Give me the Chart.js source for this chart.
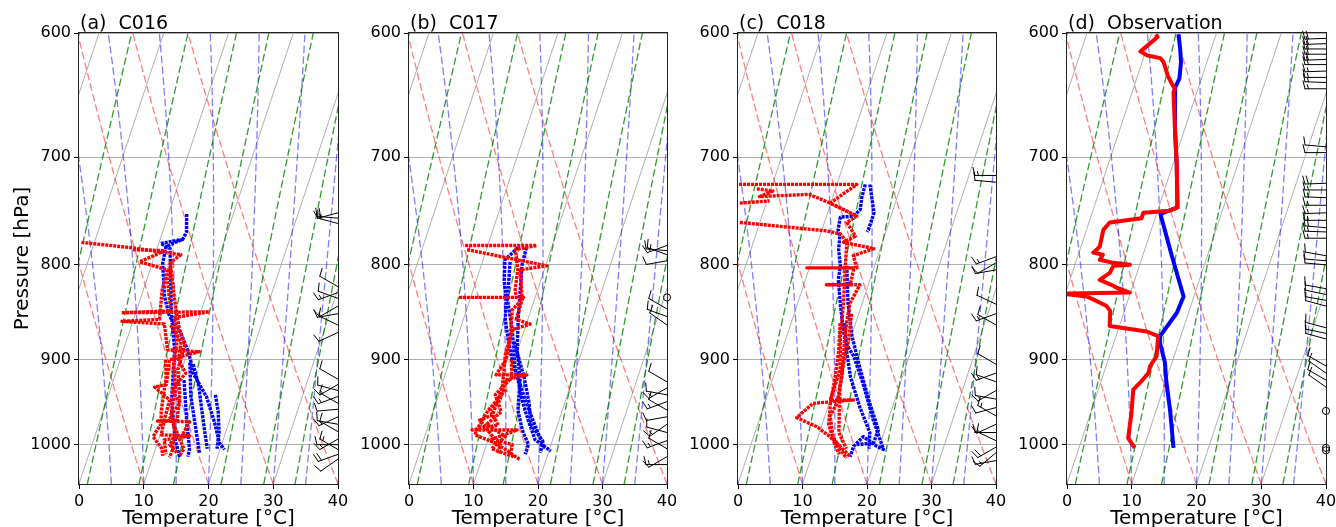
<!DOCTYPE html>
<html>
<head>
<meta charset="utf-8">
<script src="https://cdn.jsdelivr.net/npm/chart.js@4.4.0/dist/chart.umd.min.js"></script>
<style>
  body { margin: 0; background: #fff; width: 1336px; height: 527px; overflow: hidden; position: relative; }
  canvas { position: absolute; top: 0; }
</style>
</head>
<body>
<canvas id="c0"></canvas>
<canvas id="c1"></canvas>
<canvas id="c2"></canvas>
<canvas id="c3"></canvas>
<script>
// axes
const P_TOP = 600, P_BOT = 1050;
const T_MIN = 0, T_MAX = 40;
const Y_TICKS = [600, 700, 800, 900, 1000];
const X_TICKS = [0, 10, 20, 30, 40];

// background lines (metpy defaults)
const ISOTHERMS = [-20, -10, 0, 10, 20, 30, 40];
const DRY_START = [0, 10, 20, 30, 40];                 // degC at 1050 hPa
const MOIST_START = [0, 5, 10, 15, 20, 25, 30, 35, 40]; // degC at 1050 hPa
const MIX_RATIOS = [0.0004, 0.001, 0.002, 0.004, 0.007, 0.01, 0.016, 0.024, 0.032];

// (a) C016  -- [pressure hPa, temperature degC]
const aTemp1 = [[751,2.8],[768,3.7],[775,3.5],[782,1.3],[798,1.6],[832,3.6],[853,5.4],[867,7.6],[889,9.9],[903,11.1],[914,11.8],[942,15.2],[973,17.8],[998,19.6],[1006,20.7]];
const aTemp2 = [[903,10.9],[942,12.8],[982,15.3],[1010,17.0]];
const aTemp3 = [[923,10.9],[965,13.1],[1006,15.3],[1015,15.4]];
const aTemp4 = [[775,3.6],[779,0.3],[784,2.0],[849,5.5],[889,7.9],[946,10.0],[994,12.6],[1016,14.2]];
const aTemp5 = [[905,11.5],[930,13.5],[955,15.0],[980,16.5],[1005,18.0]];
const aTemp6 = [[940,16.5],[960,17.8],[985,19.0],[1005,19.5]];
const aDew1 = [[778,-12.0],[783,-4.3],[790,4.0],[797,2.9],[815,3.2],[835,4.5],[847,5.4],[849,-2.2],[848,11.3],[854,6.2],[878,7.8],[905,8.5],[934,10.1],[958,10.5],[982,12.0],[1006,12.7],[1016,12.6]];
const aDew2 = [[785,-3.7],[786,1.3],[797,-2.0],[805,2.7],[825,2.9],[856,4.0],[858,-1.7],[861,5.0],[889,6.8],[891,11.8],[900,7.6],[928,8.4],[931,6.7],[946,9.7],[970,9.9],[988,10.2],[989,14.6],[994,10.9],[1012,11.9]];
const aDew3 = [[797,2.7],[835,5.3],[867,7.6],[883,9.2],[911,9.4],[940,11.0],[970,11.9],[971,8.9],[972,13.9],[994,13.3],[1005,14.4],[1014,14.1]];
const aDew4 = [[862,6.0],[880,8.5],[900,9.0],[915,10.8],[935,9.5],[950,11.5],[965,10.5],[985,12.5],[1000,12.0],[1010,13.5]];
const aDew5 = [[900,7.0],[920,8.0],[945,8.6],[960,9.0],[975,9.6],[990,9.0],[1005,11.0],[1014,11.5]];
const aWindP   = [750,755,760,822,828,834,842,850,862,870,922,928,935,942,950,957,966,975,984,993,1000,1006,1012,1018];
const aWindDir = [255,275,285,300,250,290,240,260,295,245,300,240,285,250,300,265,245,280,300,240,270,300,250,235];
const aWindSpd = [15,20,15,10,15,10,10,15,10,10,10,15,10,15,10,10,15,10,10,15,10,15,20,10];

// (b) C017
const bTemp1 = [[783,4.8],[795,3.4],[815,4.3],[835,5.6],[856,6.5],[878,8.0],[900,9.6],[923,11.6],[946,13.2],[970,15.2],[994,17.3],[1008,20.3]];
const bTemp2 = [[783,6.1],[800,6.3],[825,7.3],[856,8.5],[889,9.9],[923,11.9],[958,13.1],[982,14.8],[1000,16.5],[1012,16.5]];
const bTemp3 = [[797,4.3],[835,5.8],[867,8.1],[911,10.6],[946,13.7],[976,16.5],[1000,18.7],[1010,18.7]];
const bTemp4 = [[880,9.0],[920,12.4],[950,14.5],[975,15.8],[995,18.5],[1005,19.0]];
const bDew1 = [[781,-3.5],[781,7.6],[785,4.5],[805,5.9],[825,6.5],[833,7.1],[833,-1.9],[833,8.2],[846,7.1],[878,8.3],[900,8.7],[917,7.9],[917,12.7],[923,9.6],[946,9.8],[958,8.8],[976,10.8],[982,7.0],[982,14.0],[994,10.3],[1006,13.2],[1019,16.0]];
const bDew2 = [[785,-3.0],[793,3.6],[801,10.2],[805,6.3],[835,8.1],[856,8.2],[861,10.6],[867,8.1],[894,8.3],[934,9.6],[964,9.4],[970,7.7],[994,11.1],[1000,14.0],[1012,14.2]];
const bDew3 = [[934,10.2],[958,8.5],[979,7.8],[988,7.7],[1000,12.1],[1012,12.3]];
const bDew4 = [[900,9.5],[920,10.5],[940,8.8],[960,10.6],[975,9.0],[990,12.5],[1005,11.0],[1015,14.8]];
const bWindP   = [781,786,790,796,833,845,853,862,925,932,940,948,958,966,975,985,995,1005,1015,1025];
const bWindDir = [250,275,290,260,0,300,290,305,300,240,280,250,300,260,235,285,250,300,240,270];
const bWindSpd = [15,10,15,10,0,10,10,10,10,15,10,15,10,10,15,10,15,10,10,15];

// (c) C018
const cTemp1 = [[724,4.4],[735,4.5],[747,4.9],[753,4.2],[754,2.2],[766,2.5],[772,3.1],[785,3.6],[801,4.7],[815,5.1],[839,6.6],[856,7.7],[881,9.4],[896,11.4],[930,14.5],[970,17.7],[1006,20.8],[1002,19.6],[990,17.0],[1002,16.0],[1015,16.0]];
const cTemp2 = [[724,5.1],[750,7.2],[766,7.2],[768,7.1]];
const cTemp3 = [[801,5.7],[839,7.8],[874,10.1],[911,13.1],[950,16.3],[982,19.0],[998,18.9],[1000,16.4]];
const cTemp4 = [[860,8.3],[890,10.0],[920,12.0],[955,15.0],[985,17.8],[1005,18.5]];
const cDew1 = [[724,-15.8],[724,3.1],[741,-0.1],[753,4.7],[759,3.5],[772,5.5],[778,4.0],[784,9.0],[791,6.2],[803,7.3],[803,-0.4],[803,6.9],[820,7.2],[820,3.5],[820,8.7],[839,8.1],[856,8.5],[874,9.0],[896,9.8],[919,10.6],[950,11.2],[965,10.8],[990,12.3],[1006,14.1],[1017,15.5]];
const cDew2 = [[728,-12.2],[730,-9.6],[735,-11.4],[733,-3.8],[741,-0.1],[753,4.7]];
const cDew3 = [[759,-13.1],[767,0.8],[770,3.1],[778,4.5],[804,5.6],[839,7.1],[874,8.3],[911,10.0],[946,10.0],[946,13.6],[950,7.5],[967,5.7],[978,9.3],[990,11.8],[1002,13.9],[1015,16.0]];
const cDew4 = [[741,-14.1],[739,-9.6]];
const cDew5 = [[850,8.9],[880,9.8],[905,10.2],[930,10.8],[960,12.0],[985,13.0],[1005,15.0]];
const cDew6 = [[860,7.6],[890,8.8],[920,9.6],[950,10.2],[975,11.0],[1000,13.0],[1012,14.2]];
const cWindP   = [716,722,792,798,805,840,850,862,905,915,925,935,945,955,965,975,985,995,1003,1010,1020];
const cWindDir = [270,275,250,240,260,295,250,300,300,250,290,240,280,255,300,245,270,295,240,230,260];
const cWindSpd = [15,10,15,10,10,10,15,10,10,15,10,15,10,10,15,10,15,10,20,15,10];

// (d) Observation
const dTemp = [[601,-5.8],[612,-4.8],[622,-4.0],[635,-3.4],[642,-3.6],[676,-1.5],[705,0.5],[745,2.9],[751,0.6],[791,4.5],[832,8.4],[849,8.2],[874,6.8],[881,7.1],[903,8.9],[923,10.0],[961,12.3],[1004,14.6]];
const dDew = [[601,-9.3],[603,-8.9],[611,-10.3],[614,-10.8],[617,-9.5],[619,-7.4],[622,-6.7],[633,-5.3],[639,-4.3],[643,-3.6],[646,-3.6],[676,-1.5],[705,0.5],[745,2.9],[748,1.9],[750,-2.1],[755,-2.1],[759,-6.8],[766,-7.4],[782,-7.1],[785,-7.4],[788,-7.8],[790,-6.2],[795,-6.4],[798,-4.2],[800,-1.5],[801,-4.0],[808,-4.2],[815,-5.4],[821,-3.0],[823,-2.4],[828,-0.1],[829,-10.5],[832,-6.6],[835,-5.4],[842,-3.0],[847,-2.2],[863,-1.5],[869,4.5],[874,6.5],[896,7.3],[907,6.8],[915,6.9],[926,6.1],[934,5.4],[961,6.3],[992,7.1],[1004,8.6]];
const dWindP   = [604,608,612,616,620,624,629,634,638,643,691,696,723,729,736,743,750,757,764,768,774,791,796,800,824,830,836,842,865,871,877,907,915,923,931,959,1004,1007];
const dWindDir = [268,268,270,270,268,270,268,270,272,270,275,270,268,270,272,270,268,270,275,272,270,280,275,275,280,282,280,285,285,282,285,300,305,300,305,0,0,0];
const dWindSpd = [20,20,20,20,20,20,15,15,15,15,10,10,20,15,15,15,15,15,20,15,15,10,10,10,10,10,10,10,10,10,10,10,10,10,10,0,0,0];

const panels = [
  { id: 'c0', left: 79,   w: 259, title: '(a)  C016', temps: [aTemp1, aTemp2, aTemp3, aTemp4, aTemp5, aTemp6], dews: [aDew1, aDew2, aDew3, aDew4, aDew5], wp: aWindP, wd: aWindDir, ws: aWindSpd, obs: false, ylabel: true },
  { id: 'c1', left: 409,  w: 258, title: '(b)  C017', temps: [bTemp1, bTemp2, bTemp3, bTemp4], dews: [bDew1, bDew2, bDew3, bDew4], wp: bWindP, wd: bWindDir, ws: bWindSpd, obs: false },
  { id: 'c2', left: 738,  w: 258, title: '(c)  C018', temps: [cTemp1, cTemp2, cTemp3, cTemp4], dews: [cDew1, cDew2, cDew3, cDew4, cDew5, cDew6], wp: cWindP, wd: cWindDir, ws: cWindSpd, obs: false },
  { id: 'c3', left: 1067, w: 259, title: '(d)  Observation', temps: [dTemp], dews: [dDew], wp: dWindP, wd: dWindDir, ws: dWindSpd, obs: true }
];

// thermodynamics
const RD = 287.04749, CP = 1004.6662, LV = 2.50084e6, EPS = 0.6219569;
const SKEW = (T_MAX - T_MIN) * Math.tan(30 * Math.PI / 180);
const skewX = (t, p) => t + SKEW * Math.log(P_BOT / p) / Math.log(P_BOT / P_TOP);
const satVap = tk => 6.112 * Math.exp(17.67 * (tk - 273.15) / (tk - 29.65));
function moistRate(p, tk) {
  const e = satVap(tk), rs = EPS * e / (p - e);
  return (RD * tk + LV * rs) / (CP + LV * LV * rs * EPS / (RD * tk * tk)) / p;
}
const PRES = [];
for (let p = P_BOT; p >= P_TOP - 0.01; p -= 10) PRES.push(p);

function dryLine(t0) {
  return PRES.map(p => ({ x: skewX((t0 + 273.15) * Math.pow(p / P_BOT, RD / CP) - 273.15, p), y: p }));
}
function moistLine(t0) {
  let t = t0 + 273.15;
  const out = [{ x: skewX(t0, P_BOT), y: P_BOT }];
  for (let i = 1; i < PRES.length; i++) {
    const p = PRES[i - 1], h = PRES[i] - p;
    const k1 = moistRate(p, t);
    const k2 = moistRate(p + h / 2, t + h * k1 / 2);
    const k3 = moistRate(p + h / 2, t + h * k2 / 2);
    const k4 = moistRate(p + h, t + h * k3);
    t += h * (k1 + 2 * k2 + 2 * k3 + k4) / 6;
    out.push({ x: skewX(t - 273.15, PRES[i]), y: PRES[i] });
  }
  return out;
}
function mixLine(w) {
  return PRES.map(p => {
    const v = Math.log(p * w / (EPS + w) / 6.112);
    return { x: skewX(243.5 * v / (17.67 - v), p), y: p };
  });
}
const toXY = pairs => pairs.map(([p, t]) => ({ x: skewX(t, p), y: p }));

function guide(data, color, dash, order) {
  return { data, showLine: true, pointRadius: 0, borderColor: color, borderWidth: dash ? 1.3 : 1, borderDash: dash || [], order };
}

function drawBarb(ctx, x, y, dir, spd) {
  ctx.beginPath();
  if (spd < 2.5) {
    ctx.arc(x, y, 3.6, 0, Math.PI * 2);
    ctx.stroke();
    return;
  }
  const L = 21, H = 8, S = 3.4;
  const r = dir * Math.PI / 180;
  const ux = Math.sin(r), uy = -Math.cos(r);
  const px = -uy, py = ux;
  const tx = x + ux * L, ty = y + uy * L;
  ctx.moveTo(x, y);
  ctx.lineTo(tx, ty);
  let n = Math.round(spd / 5);
  const full = Math.floor(n / 2), half = n % 2;
  let k = 0;
  for (let i = 0; i < full; i++, k++) {
    const bx = tx - ux * S * k, by = ty - uy * S * k;
    ctx.moveTo(bx, by);
    ctx.lineTo(bx + px * H + ux * 2, by + py * H + uy * 2);
  }
  if (half) {
    if (k === 0) k = 1;
    const bx = tx - ux * S * k, by = ty - uy * S * k;
    ctx.moveTo(bx, by);
    ctx.lineTo(bx + px * H / 2 + ux, by + py * H / 2 + uy);
  }
  ctx.stroke();
}

const skewPlugin = {
  id: 'skewDecor',
  afterDatasetsDraw(chart) {
    const o = chart.options.plugins.skewDecor;
    const { ctx, chartArea: a, scales } = chart;
    ctx.save();
    ctx.strokeStyle = '#000';
    ctx.lineWidth = 1;
    ctx.lineCap = 'round';
    o.wp.forEach((p, i) => drawBarb(ctx, a.right, scales.y.getPixelForValue(p), o.wd[i], o.ws[i]));
    ctx.restore();
  },
  afterDraw(chart) {
    const o = chart.options.plugins.skewDecor;
    const { ctx, chartArea: a } = chart;
    ctx.save();
    ctx.strokeStyle = '#222';
    ctx.lineWidth = 1;
    ctx.strokeRect(a.left - 0.5, a.top - 0.5, a.width + 1, a.height + 1);
    ctx.fillStyle = '#000';
    ctx.font = '19px "DejaVu Sans"';
    ctx.textAlign = 'left';
    ctx.textBaseline = 'alphabetic';
    ctx.fillText(o.title, a.left + 1, 29);
    ctx.font = '20px "DejaVu Sans"';
    ctx.textAlign = 'center';
    ctx.fillText('Temperature [°C]', (a.left + a.right) / 2, 524);
    if (o.ylabel) {
      ctx.translate(18.5, (a.top + a.bottom) / 2);
      ctx.rotate(-Math.PI / 2);
      ctx.fillText('Pressure [hPa]', 0, 0);
    }
    ctx.restore();
  }
};

Chart.defaults.font.family = '"DejaVu Sans", sans-serif';

panels.forEach(pn => {
  const canvas = document.getElementById(pn.id);
  const W = 70 + pn.w + 14;
  canvas.width = W;
  canvas.height = 527;
  canvas.style.left = (pn.left - 70) + 'px';

  const datasets = [];
  const trace = (tr, color, order) => ({
    data: toXY(tr), showLine: true, pointRadius: 0, borderColor: color,
    borderWidth: pn.obs ? 4 : 3.4, borderDash: pn.obs ? [] : [3, 1],
    borderJoinStyle: 'round', order
  });
  pn.dews.forEach(tr => datasets.push(trace(tr, '#ff0000', 1)));
  pn.temps.forEach(tr => datasets.push(trace(tr, '#0000ff', 2)));
  MIX_RATIOS.forEach(w => datasets.push(guide(mixLine(w), 'rgba(0,128,0,0.8)', [7.5, 3.3], 10)));
  MOIST_START.forEach(t => datasets.push(guide(moistLine(t), 'rgba(0,0,255,0.5)', [7.5, 3.3], 11)));
  DRY_START.forEach(t => datasets.push(guide(dryLine(t), 'rgba(255,0,0,0.5)', [7.5, 3.3], 12)));
  ISOTHERMS.forEach(t => datasets.push(guide([{ x: skewX(t, P_BOT), y: P_BOT }, { x: skewX(t, P_TOP), y: P_TOP }], '#b0b0b0', null, 13)));

  new Chart(canvas, {
    type: 'scatter',
    data: { datasets },
    options: {
      responsive: false,
      animation: false,
      devicePixelRatio: 1,
      events: [],
      layout: { padding: { top: 33, right: 14, left: 0, bottom: 0 } },
      plugins: {
        legend: { display: false },
        tooltip: { enabled: false },
        skewDecor: { title: pn.title, ylabel: !!pn.ylabel, wp: pn.wp, wd: pn.wd, ws: pn.ws }
      },
      scales: {
        x: {
          type: 'linear', min: T_MIN, max: T_MAX,
          afterBuildTicks: s => { s.ticks = X_TICKS.map(v => ({ value: v })); },
          ticks: { color: '#000', font: { size: 16 }, padding: 3, maxRotation: 0, autoSkip: false },
          grid: { drawOnChartArea: false, drawTicks: true, tickLength: 5, tickColor: '#000' },
          border: { display: false },
          afterFit: s => { s.height = 43; }
        },
        y: {
          type: 'logarithmic', min: P_TOP, max: P_BOT, reverse: true,
          afterBuildTicks: s => { s.ticks = Y_TICKS.map(v => ({ value: v })); },
          ticks: { color: '#000', font: { size: 16 }, padding: 3, autoSkip: false, callback: v => String(v) },
          grid: { color: '#b0b0b0', lineWidth: 1, tickColor: '#000', tickLength: 5 },
          border: { display: false },
          afterFit: s => { s.width = 70; }
        }
      }
    },
    plugins: [skewPlugin]
  });
});
</script>
</body>
</html>
